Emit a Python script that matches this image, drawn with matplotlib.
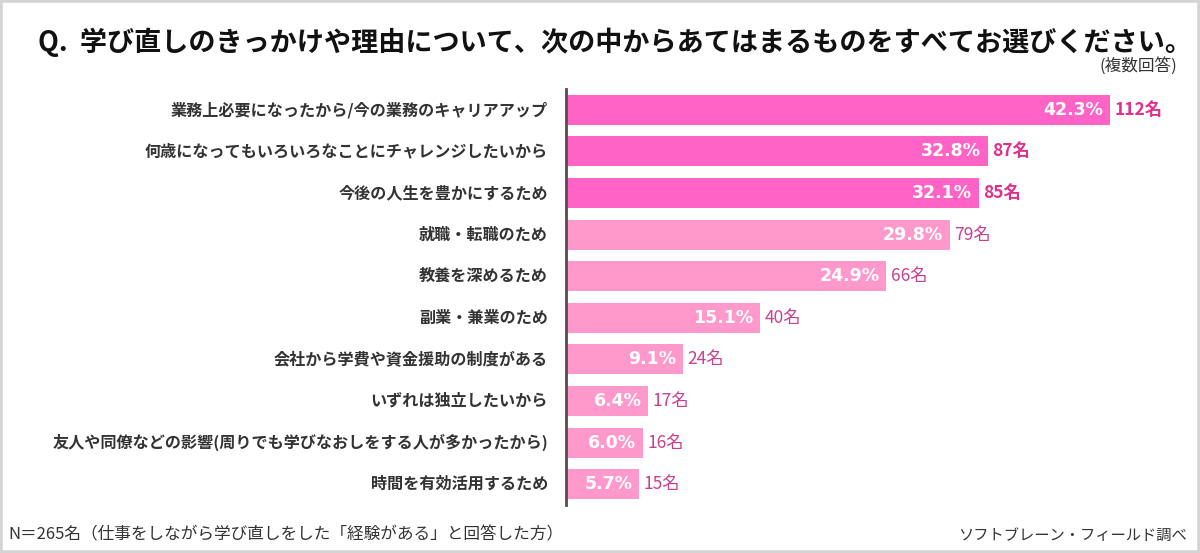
import matplotlib.pyplot as plt
from matplotlib.patches import Rectangle

plt.rcParams['font.family'] = ['Noto Sans CJK JP', 'DejaVu Sans']

labels = ['業務上必要になったから/今の業務のキャリアアップ',
          '何歳になってもいろいろなことにチャレンジしたいから',
          '今後の人生を豊かにするため',
          '就職・転職のため',
          '教養を深めるため',
          '副業・兼業のため',
          '会社から学費や資金援助の制度がある',
          'いずれは独立したいから',
          '友人や同僚などの影響(周りでも学びなおしをする人が多かったから)',
          '時間を有効活用するため']
pct = [42.3, 32.8, 32.1, 29.8, 24.9, 15.1, 9.1, 6.4, 6.0, 5.7]
counts = [112, 87, 85, 79, 66, 40, 24, 17, 16, 15]
n_top = 3

fig = plt.figure(figsize=(12, 5.53), dpi=100)
ax = fig.add_axes([566 / 1200, 48 / 553, 615 / 1200, 416 / 553])

ypos = list(range(len(labels)))
colors = ['#ff63c6' if i < n_top else '#ff99cc' for i in ypos]
ax.barh(ypos, pct, height=0.72, color=colors, zorder=2)
ax.set_ylim(len(labels) - 0.5, -0.5)
ax.set_xlim(0, 615 / 12.87)

for i, (p, c) in enumerate(zip(pct, counts)):
    ax.annotate(f'{p:.1f}%', (p, i), xytext=(-5, 0), textcoords='offset points',
                ha='right', va='center', color='white', fontsize=12.5,
                fontweight='bold', family=['DejaVu Sans'])
    top = i < n_top
    ax.annotate(f'{c}名', (p, i), xytext=(3, 0), textcoords='offset points',
                ha='left', va='center', fontsize=12.5,
                color='#e0308a' if top else '#c8408e',
                fontweight='bold' if top else 'normal')
    ax.annotate(labels[i], (0, i), xytext=(-13, 0), textcoords='offset points',
                ha='right', va='center', fontsize=11.6, color='#333333',
                fontweight='bold')

ax.set_xticks([])
ax.set_yticks([])
for s in ['top', 'right', 'bottom']:
    ax.spines[s].set_visible(False)
ax.spines['left'].set_color('#5a4a4a')
ax.spines['left'].set_linewidth(2)

fig.text(38 / 1200, 1 - 42 / 553,
         'Q.  学び直しのきっかけや理由について、次の中からあてはまるものをすべてお選びください。',
         fontsize=19.5, fontweight='bold', color='#111111', va='center', ha='left')
fig.text(1177 / 1200, 1 - 66 / 553, '(複数回答)', fontsize=12, color='#333333',
         ha='right', va='center')
fig.text(8 / 1200, 1 - 535 / 553,
         'N＝265名（仕事をしながら学び直しをした「経験がある」と回答した方）',
         fontsize=12, color='#333333', ha='left', va='center')
fig.text(1187 / 1200, 1 - 535 / 553, 'ソフトブレーン・フィールド調べ',
         fontsize=11, color='#333333', ha='right', va='center')

fig.patches.append(Rectangle((0, 0), 1, 1, transform=fig.transFigure,
                             fill=False, edgecolor='#d4d4d4', linewidth=4))

fig.savefig('out.png', dpi=100, facecolor='white')
